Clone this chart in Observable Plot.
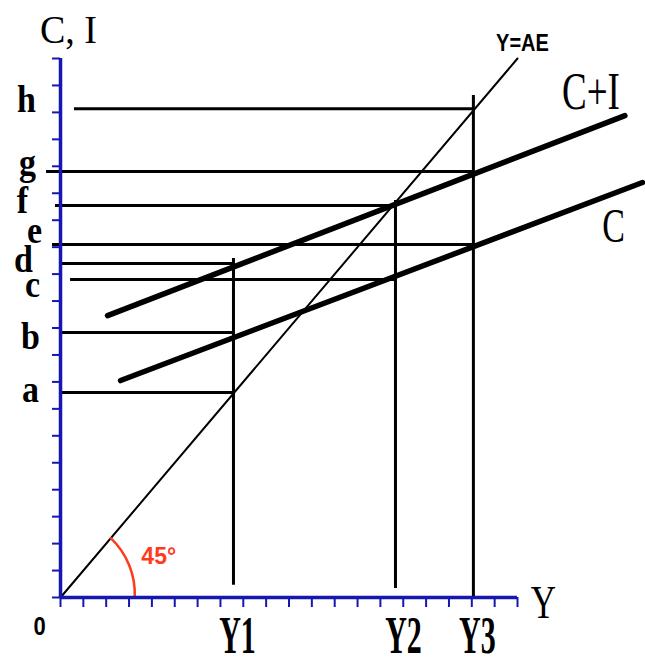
<!DOCTYPE html>
<html><head><meta charset="utf-8">
<script src="https://cdn.jsdelivr.net/npm/d3@7"></script>
<script src="https://cdn.jsdelivr.net/npm/@observablehq/plot@0.6"></script>
<style>html,body{margin:0;padding:0;background:#fff}#chart svg{display:block}</style>
</head><body><div id="chart"></div>
<script>
// ---- data (chart units: both axes run 0..20) ----
const axisTicks = [0,1,2,3,4,5,6,7,8,9,10,11,12,13,14,15,16,17,18,19,20];
const incomeNames = ["Y1", "Y2", "Y3"];
const incomeValues = [7.57, 14.66, 18.07];
const incomeLow = [0.45, 0.33, 0];
const incomeHigh = [12.58, 14.73, 18.63];
const levelNames = ["h", "g", "f", "e", "d", "c", "b", "a"];
const levelValues = [18.14, 15.81, 14.55, 13.10, 12.39, 11.80, 9.83, 7.61];
const levelFrom = [0.61, -0.61, -0.22, -0.35, 0, 0.44, 0, 0];
const levelTo = [18.07, 18.07, 14.66, 18.07, 7.57, 14.66, 7.57, 7.57];
const consumption = [{x: 2.63, y: 8.05}, {x: 25.47, y: 15.40}];
const consumptionPlusInvestment = [{x: 2.06, y: 10.46}, {x: 24.70, y: 17.88}];
const aggregateLine = [{x: 0, y: 0}, {x: 20, y: 20}];
const angleArc = [{x1: 3.25, y1: 0, x2: 2.2, y2: 2.2}];

// ---- tables built from the arrays ----
const incomes = incomeNames.map((n, i) => ({name: n, value: incomeValues[i], low: incomeLow[i], high: incomeHigh[i]}));
const levels = levelNames.map((n, i) => ({name: n, value: levelValues[i], from: levelFrom[i], to: levelTo[i]}));

// ---- styling ----
const BLUE = "#1616b0";
const RED = "#ff3b1d";
const SERIF = "Liberation Serif, Times New Roman, serif";
const SANS = "Liberation Sans, Arial, sans-serif";
const labelNudge = {h:[-34,-9], g:[-33,-9], f:[-38,-5], e:[-26,-14], d:[-37,-4], c:[-28,5], b:[-30,4], a:[-30,-3]};
const incomeNudge = {Y1: 4, Y2: 8, Y3: 4};
const stretch = {"lvl": 1.12, "inc": 1.75, "title": 1.05, "series": 1.4, "yaxis": 1.35, "zero": 1.2, "ae": 1.2, "deg": 1.0};

const levelLabels = levels.map(l => Plot.text([l], {
  y: "value", text: "name", frameAnchor: "left", dx: labelNudge[l.name][0], dy: labelNudge[l.name][1],
  fontFamily: SERIF, fontWeight: "bold", fontSize: 34, textAnchor: "middle", lineAnchor: "middle",
  fill: "black", ariaDescription: "lvl"
}));
const incomeLabels = incomes.map(d => Plot.text([d], {
  x: "value", y: 0, text: "name", dx: incomeNudge[d.name], dy: 38,
  fontFamily: SERIF, fontWeight: "bold", fontSize: 30, textAnchor: "middle", lineAnchor: "middle",
  fill: "black", ariaDescription: "inc"
}));

const chart = Plot.plot({
  width: 645, height: 664,
  marginLeft: 60, marginRight: 128, marginTop: 58, marginBottom: 67,
  x: {domain: [0, 20], axis: null},
  y: {domain: [0, 20], axis: null},
  style: {background: "white"},
  marks: [
    // horizontal spending levels
    Plot.ruleY(levels, {y: "value", x1: "from", x2: "to", stroke: "black", strokeWidth: 3}),
    // vertical income levels
    Plot.ruleX(incomes, {x: "value", y1: "low", y2: "high", stroke: "black", strokeWidth: 3}),
    // 45 degree line
    Plot.line(aggregateLine, {x: "x", y: "y", stroke: "black", strokeWidth: 2}),
    // C and C+I
    Plot.line(consumption, {x: "x", y: "y", stroke: "black", strokeWidth: 5.5}),
    Plot.line(consumptionPlusInvestment, {x: "x", y: "y", stroke: "black", strokeWidth: 5.5}),
    // angle arc
    Plot.arrow(angleArc, {x1: "x1", y1: "y1", x2: "x2", y2: "y2", bend: -24.5, headLength: 0, stroke: RED, strokeWidth: 2.5}),
    // axis ticks (zero-length rules extended outward by insets)
    Plot.ruleY(axisTicks, {y: d => d, x1: 0, x2: 0, insetLeft: -8, stroke: BLUE, strokeWidth: 2}),
    Plot.ruleX(axisTicks, {x: d => d, y1: 0, y2: 0, insetBottom: -10, stroke: BLUE, strokeWidth: 2}),
    // axis lines
    Plot.ruleX([0], {y1: 0, y2: 20, stroke: BLUE, strokeWidth: 3.5}),
    Plot.ruleY([0], {x1: 0, x2: 20, stroke: BLUE, strokeWidth: 3.5}),
    // labels
    ...levelLabels,
    ...incomeLabels,
    Plot.text(["C, I"], {frameAnchor: "top-left", dx: 8, dy: -28, fontFamily: SERIF, fontSize: 38, textAnchor: "middle", lineAnchor: "middle", fill: "black", ariaDescription: "title"}),
    Plot.text(["Y"], {frameAnchor: "bottom-right", dx: 26, dy: 5, fontFamily: SERIF, fontSize: 35, textAnchor: "middle", lineAnchor: "middle", fill: "black", ariaDescription: "yaxis"}),
    Plot.text(["0"], {frameAnchor: "bottom-left", dx: -21, dy: 29, fontFamily: SANS, fontWeight: "bold", fontSize: 22, textAnchor: "middle", lineAnchor: "middle", fill: "black", ariaDescription: "zero"}),
    Plot.text([consumptionPlusInvestment[1]], {x: "x", y: "y", text: () => "C+I", dx: -34, dy: -23, fontFamily: SERIF, fontSize: 37, textAnchor: "middle", lineAnchor: "middle", fill: "black", ariaDescription: "series"}),
    Plot.text([consumption[1]], {x: "x", y: "y", text: () => "C", dx: -29, dy: 44, fontFamily: SERIF, fontSize: 34, textAnchor: "middle", lineAnchor: "middle", fill: "black", ariaDescription: "series"}),
    Plot.text([aggregateLine[1]], {x: "x", y: "y", text: () => "Y=AE", dx: 5, dy: -15, fontFamily: SANS, fontWeight: "bold", fontSize: 20, textAnchor: "middle", lineAnchor: "middle", fill: "black", ariaDescription: "ae"}),
    Plot.text(angleArc, {x: "x1", y: "y1", text: () => "45°", dx: 24, dy: -41, fontFamily: SANS, fontWeight: "bold", fontSize: 23, textAnchor: "middle", lineAnchor: "middle", fill: RED, ariaDescription: "deg"})
  ]
});
document.getElementById("chart").appendChild(chart);

// vertical stretch of labels about their visual centre (the reference's lettering is drawn tall)
const svgBox = chart.getBoundingClientRect();
for (const [key, k] of Object.entries(stretch)) {
  chart.querySelectorAll(`g[aria-description="${key}"] text`).forEach(t => {
    const b = t.getBoundingClientRect();
    const cy = b.top + b.height / 2 - svgBox.top;
    const wrap = document.createElementNS("http://www.w3.org/2000/svg", "g");
    const ctm = t.parentNode.getCTM();
    const localCy = ctm ? (cy - ctm.f) / (ctm.d || 1) : cy;
    wrap.setAttribute("transform", `translate(0,${localCy}) scale(1,${k}) translate(0,${-localCy})`);
    t.parentNode.insertBefore(wrap, t);
    wrap.appendChild(t);
  });
}
</script>
</body></html>
